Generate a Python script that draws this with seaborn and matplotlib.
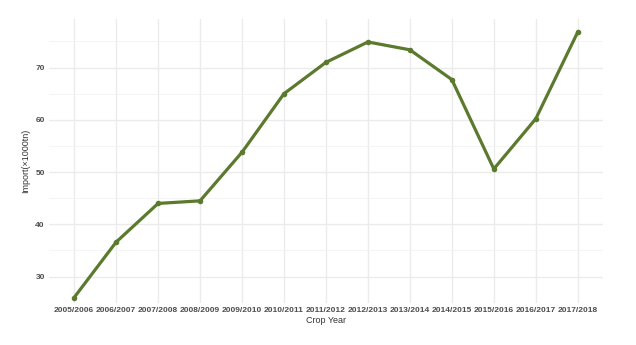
import matplotlib
matplotlib.use("Agg")
import matplotlib.pyplot as plt
import seaborn as sns
import pandas as pd
from matplotlib.ticker import MultipleLocator

years = ["2005/2006", "2006/2007", "2007/2008", "2008/2009", "2009/2010", "2010/2011",
         "2011/2012", "2012/2013", "2013/2014", "2014/2015", "2015/2016", "2016/2017", "2017/2018"]
imports = [26.0, 36.6, 44.0, 44.5, 53.8, 65.0, 71.0, 74.9, 73.4, 67.7, 50.6, 60.2, 76.8]

df = pd.DataFrame({"Crop Year": years, "Import": imports})

sns.set_theme(style="white")
plt.rcParams['font.family'] = ['Liberation Sans', 'DejaVu Sans']

fig = plt.figure(figsize=(6.36, 3.45), dpi=100)
ax = fig.add_axes([0.077, 0.121, 0.871, 0.824])

color = "#5B7A2E"
sns.lineplot(data=df, x="Crop Year", y="Import", ax=ax, color=color, linewidth=2.3,
             marker="o", markersize=4, markeredgewidth=0, sort=False)

ax.set_xlim(-0.6, len(years) - 1 + 0.6)
ax.set_ylim(24.9, 79.3)
ax.yaxis.set_major_locator(MultipleLocator(10))
ax.yaxis.set_minor_locator(MultipleLocator(5))
ax.set_xticks(range(len(years)))
ax.set_xticklabels(years)

ax.grid(True, which="major", color="#EBEBEB", linewidth=1.0)
ax.grid(True, which="minor", axis="y", color="#F3F3F3", linewidth=0.6)
ax.set_axisbelow(True)
for s in ax.spines.values():
    s.set_visible(False)

ax.tick_params(axis="both", which="both", length=0, pad=3)
for lab in ax.get_xticklabels() + ax.get_yticklabels():
    lab.set_fontsize(6)
    lab.set_fontweight("bold")
    lab.set_color("#4D4D4D")

ax.set_xlabel("Crop Year", fontsize=6.5, color="#333333", labelpad=1)
ax.set_ylabel("Import(×1000tn)", fontsize=6.5, color="#333333", labelpad=4)

fig.savefig("out.png", dpi=100, facecolor="white")
